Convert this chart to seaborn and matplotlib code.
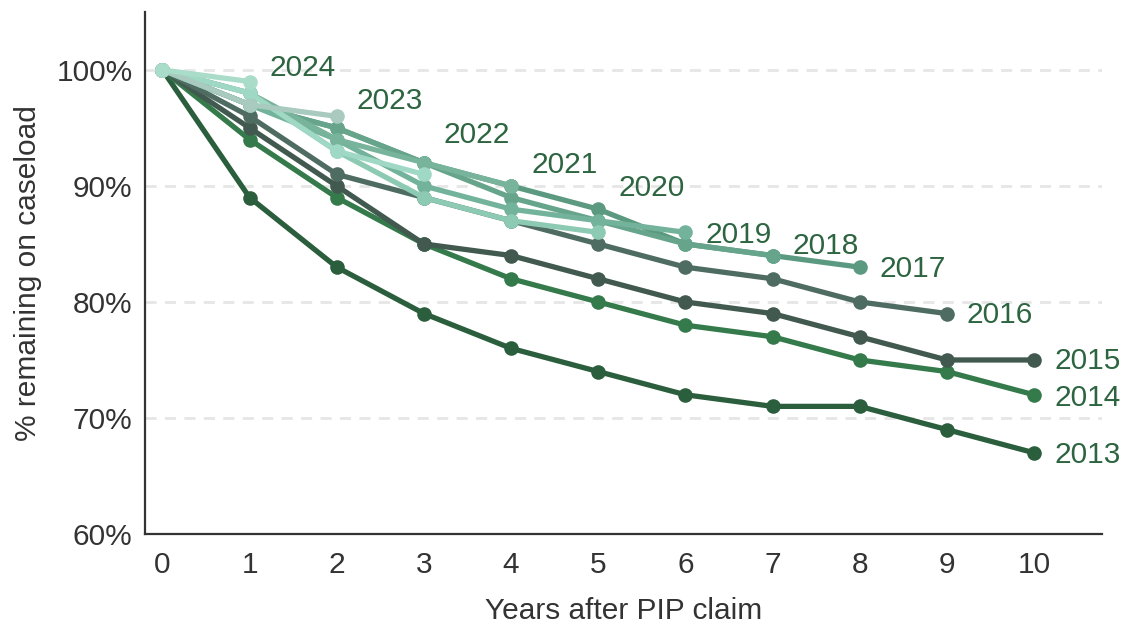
import matplotlib
matplotlib.use("Agg")
import matplotlib.pyplot as plt
import seaborn as sns
import pandas as pd
from matplotlib.ticker import FuncFormatter

# Share of each PIP claim cohort still on the caseload, by years since claim
cohorts = ["2013", "2014", "2015", "2016", "2017", "2018",
           "2019", "2020", "2021", "2022", "2023", "2024"]
pct_2013 = [100, 89, 83, 79, 76, 74, 72, 71, 71, 69, 67]
pct_2014 = [100, 94, 89, 85, 82, 80, 78, 77, 75, 74, 72]
pct_2015 = [100, 95, 90, 85, 84, 82, 80, 79, 77, 75, 75]
pct_2016 = [100, 96, 91, 89, 87, 85, 83, 82, 80, 79]
pct_2017 = [100, 97, 95, 92, 90, 88, 85, 84, 83]
pct_2018 = [100, 97, 95, 92, 89, 87, 85, 84]
pct_2019 = [100, 97, 94, 90, 88, 87, 86]
pct_2020 = [100, 98, 93, 89, 87, 86]
pct_2021 = [100, 98, 94, 92, 90]
pct_2022 = [100, 98, 93, 91]
pct_2023 = [100, 97, 96]
pct_2024 = [100, 99]
series = [pct_2013, pct_2014, pct_2015, pct_2016, pct_2017, pct_2018,
          pct_2019, pct_2020, pct_2021, pct_2022, pct_2023, pct_2024]
year_ticks = list(range(0, 11))
pct_ticks = [60, 70, 80, 90, 100]

# Where each cohort's name sits next to the end of its line
label_x_gap = 0.23
label_y = [66.8, 71.7, 74.9, 78.9, 82.85, 84.8, 85.8, 89.85, 91.8, 94.4, 97.35, 100.2]

colours = ["#2b5e3c", "#357a4b", "#41594f", "#4f6c62", "#5b9a80", "#66a48b",
           "#74b39b", "#8ccab3", "#78b39c", "#a0d8c6", "#a9cabe", "#a9dcc9"]
label_colour = "#2e6541"
text_size = 21.5

rows = []
for name, vals in zip(cohorts, series):
    for yr, v in enumerate(vals):
        rows.append({"cohort": name, "year": yr, "pct": v})
df = pd.DataFrame(rows)

sns.set_theme(style="white")
plt.rcParams["font.family"] = ["Liberation Sans", "DejaVu Sans"]

fig = plt.figure(figsize=(11.26, 6.28), dpi=100)
ax = fig.add_axes([0.1288, 0.1497, 0.8499, 0.8313])

for y in pct_ticks[1:]:
    ax.axhline(y, color="#e6e6e6", lw=2, ls=(0, (4, 3)), zorder=0)

sns.lineplot(data=df, x="year", y="pct", hue="cohort", hue_order=cohorts,
             palette=dict(zip(cohorts, colours)), marker="o", markersize=10.5,
             markeredgewidth=0, linewidth=3.8, legend=False, ax=ax, zorder=3)

for name, vals, ly in zip(cohorts, series, label_y):
    ax.text(len(vals) - 1 + label_x_gap, ly, name, color=label_colour,
            fontsize=text_size, ha="left", va="center")

ax.set_xlim(-0.2, 10.78)
ax.set_ylim(60, 105)
ax.set_xticks(year_ticks)
ax.set_yticks(pct_ticks)
ax.yaxis.set_major_formatter(FuncFormatter(lambda v, _: f"{v:.0f}%"))
ax.tick_params(axis="both", length=0, labelsize=text_size, labelcolor="#333333")
ax.tick_params(axis="x", pad=12)
ax.tick_params(axis="y", pad=9)
ax.set_xlabel("Years after PIP claim", fontsize=text_size, color="#333333", labelpad=13)
ax.set_ylabel("% remaining on caseload", fontsize=text_size, color="#333333", labelpad=10)

for side in ["top", "right"]:
    ax.spines[side].set_visible(False)
for side in ["left", "bottom"]:
    ax.spines[side].set_color("#333333")
    ax.spines[side].set_linewidth(1.6)

fig.savefig("out.png", dpi=100)
